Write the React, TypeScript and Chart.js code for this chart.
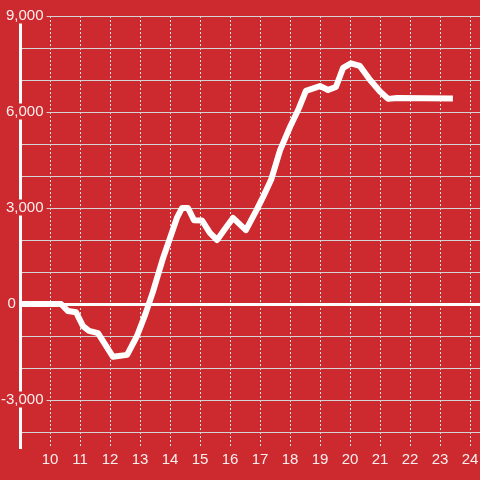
import React, { useEffect, useRef } from "react";
import Chart from "chart.js/auto";

const xValues = [9, 10.37, 10.6, 10.87, 11.1, 11.3, 11.6, 12.1, 12.57, 12.9, 13.17, 13.43, 13.77, 14.07, 14.23, 14.4, 14.6, 14.8, 15.07, 15.33, 15.57, 15.83, 16.1, 16.53, 16.87, 17.1, 17.37, 17.67, 18, 18.27, 18.53, 19, 19.27, 19.53, 19.77, 20.03, 20.33, 20.67, 21, 21.27, 21.57, 23.43];
const yValues = [0, 0, -220, -260, -690, -840, -910, -1650, -1590, -1000, -340, 380, 1440, 2250, 2690, 3000, 3000, 2620, 2610, 2220, 2000, 2340, 2690, 2310, 2910, 3340, 3880, 4810, 5530, 6060, 6660, 6810, 6690, 6780, 7380, 7520, 7440, 7000, 6640, 6410, 6440, 6420];

const xTickValues = [10, 11, 12, 13, 14, 15, 16, 17, 18, 19, 20, 21, 22, 23, 24];
const yGridValues = [-4000, -3000, -2000, -1000, 0, 1000, 2000, 3000, 4000, 5000, 6000, 7000, 8000, 9000];
const yLabelValues = [-3000, 3000, 6000, 9000];
const yZeroLabel = [0];

const X_MIN = 9;
const X_MAX = 24 + 1 / 3;
const Y_MIN = -4500;
const Y_MAX = 9000;

const BG = "#cc2a2f";
const TEXT = "rgba(255,255,255,0.92)";
const FONT = "'Liberation Sans', Arial, sans-serif";

const fmt = (v: number) => v.toLocaleString("en-US");

export default function App() {
  const ref = useRef<HTMLCanvasElement | null>(null);

  useEffect(() => {
    if (!ref.current) return;
    const zeroPad = (s: any) => {
      s.paddingTop = 0;
      s.paddingBottom = 0;
      s.paddingLeft = 0;
      s.paddingRight = 0;
    };
    const chart = new Chart(ref.current, {
      type: "line",
      data: {
        datasets: [
          {
            data: xValues.map((x, i) => ({ x, y: yValues[i] })),
            borderColor: "#ffffff",
            borderWidth: 6,
            pointRadius: 0,
            tension: 0,
            fill: false,
            borderJoinStyle: "round",
            borderCapStyle: "butt",
            xAxisID: "x",
            yAxisID: "y",
          },
        ],
      },
      options: {
        responsive: false,
        animation: false,
        devicePixelRatio: 1,
        layout: { padding: { left: 20, top: 16, right: 0, bottom: 0 } },
        plugins: { legend: { display: false }, tooltip: { enabled: false } },
        scales: {
          x: {
            type: "linear",
            position: "bottom",
            min: X_MIN,
            max: X_MAX,
            afterBuildTicks: (s: any) => {
              s.ticks = xTickValues.map((v) => ({ value: v }));
            },
            afterFit: (s: any) => {
              s.height = 32;
              zeroPad(s);
            },
            grid: { color: "#e4e4e4", lineWidth: 1, drawTicks: false },
            border: { display: false, dash: [2, 2] },
            ticks: {
              color: TEXT,
              font: { family: FONT, size: 15 },
              padding: 3,
              maxRotation: 0,
              autoSkip: false,
              callback: (v: any) => String(v),
            },
          },
          y: {
            type: "linear",
            position: "left",
            min: Y_MIN,
            max: Y_MAX,
            afterBuildTicks: (s: any) => {
              s.ticks = yGridValues.map((v) => ({ value: v }));
            },
            afterFit: (s: any) => {
              s.width = 0;
              zeroPad(s);
            },
            grid: {
              color: (c: any) => (c.tick && c.tick.value === 0 ? "#ffffff" : "#d4d4d4"),
              lineWidth: (c: any) => (c.tick && c.tick.value === 0 ? 3 : 1),
              drawTicks: false,
            },
            border: { display: true, color: "#ffffff", width: 3 },
            ticks: {
              mirror: true,
              crossAlign: "far",
              padding: -19,
              color: TEXT,
              font: { family: FONT, size: 15, lineHeight: 1 },
              callback: (v: any) => (yLabelValues.includes(v) ? fmt(v) : ""),
              showLabelBackdrop: true,
              backdropColor: (c: any) =>
                c.tick && yLabelValues.includes(c.tick.value) ? BG : "rgba(0,0,0,0)",
              backdropPadding: { top: 1, bottom: 0, left: 2, right: 3 },
            },
          },
          yZero: {
            type: "linear",
            position: "left",
            min: Y_MIN,
            max: Y_MAX,
            afterBuildTicks: (s: any) => {
              s.ticks = yZeroLabel.map((v) => ({ value: v }));
            },
            afterFit: (s: any) => {
              s.width = 0;
              zeroPad(s);
            },
            grid: { display: false, drawTicks: false },
            border: { display: false },
            ticks: {
              mirror: true,
              crossAlign: "near",
              padding: -12.5,
              color: TEXT,
              font: { family: FONT, size: 15, lineHeight: 1 },
              callback: (v: any) => fmt(v),
            },
          },
        },
      },
    } as any);
    return () => chart.destroy();
  }, []);

  return (
    <div
      style={{
        position: "fixed",
        left: 0,
        top: 0,
        width: 480,
        height: 480,
        background: BG,
      }}
    >
      <canvas ref={ref} width={480} height={480} style={{ display: "block" }} />
    </div>
  );
}
